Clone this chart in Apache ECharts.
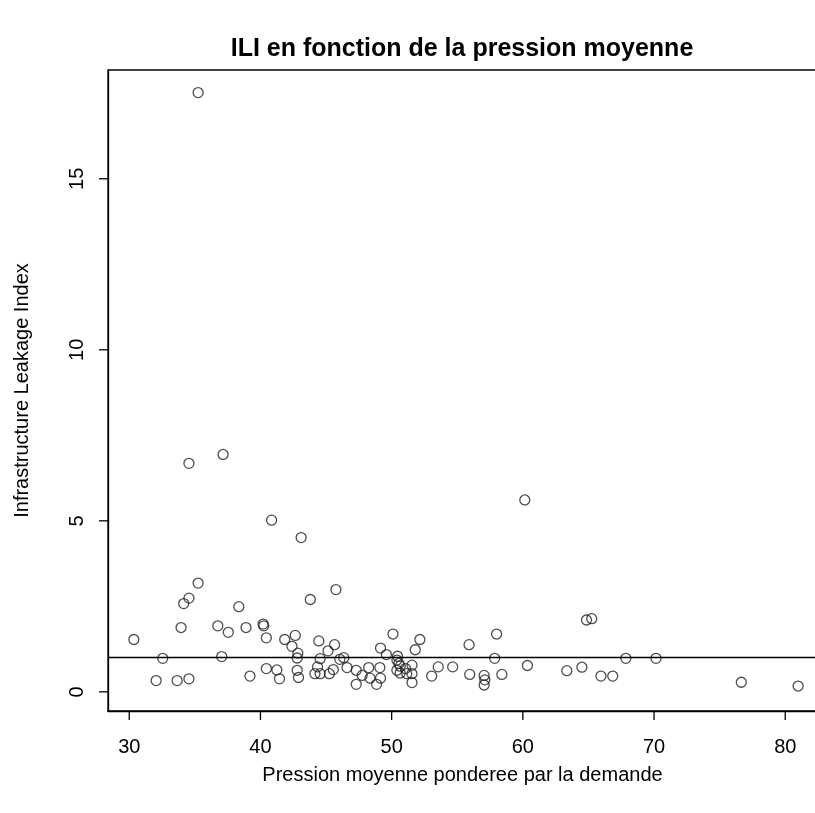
<!DOCTYPE html>
<html>
<head>
<meta charset="utf-8">
<script src="https://cdn.jsdelivr.net/npm/echarts@6/dist/echarts.min.js"></script>
<style>
  html, body { margin: 0; padding: 0; background: #fff; }
  #chart { width: 815px; height: 813px; }
</style>
</head>
<body>
<div id="chart"></div>
<script>
// Pression moyenne pondérée par la demande (m) for each sector
const pression = [
  30.35, 32.05, 32.55, 33.65, 33.95, 34.15, 34.55, 34.55, 34.55, 35.25,
  35.25, 36.75, 37.05, 37.15, 37.55, 38.35, 38.90, 39.20, 40.20, 40.25,
  40.45, 40.45, 40.85, 41.25, 41.45, 41.85, 42.40, 42.65, 42.80, 42.85,
  42.80, 42.90, 43.10, 43.80, 44.15, 44.35, 44.45, 44.55, 44.55, 45.15,
  45.25, 45.55, 45.65, 45.75, 46.05, 46.35, 46.60, 47.30, 47.30, 47.75,
  48.25, 48.35, 48.85, 49.10, 49.15, 49.15, 49.60, 50.10, 50.45, 50.40,
  50.55, 50.65, 50.40, 50.65, 51.05, 51.15, 51.55, 51.55, 51.55, 51.80,
  52.15, 53.05, 53.55, 54.65, 55.90, 55.95, 57.05, 57.10, 57.05, 57.85,
  58.00, 58.40, 60.15, 60.35, 63.35, 64.50, 64.85, 65.25, 65.95, 66.85,
  67.85, 70.15, 76.65, 80.98
];
// Infrastructure Leakage Index for the same sectors
const ili = [
  1.53, 0.33, 0.98, 0.33, 1.88, 2.58, 2.74, 0.38, 6.68, 3.18,
  17.52, 1.93, 1.03, 6.94, 1.74, 2.49, 1.88, 0.46, 1.98, 1.93,
  1.58, 0.68, 5.02, 0.64, 0.38, 1.53, 1.33, 1.65, 0.63, 1.13,
  0.99, 0.42, 4.51, 2.70, 0.53, 0.73, 1.49, 0.97, 0.53, 1.20,
  0.53, 0.65, 1.38, 2.99, 0.95, 1.00, 0.71, 0.63, 0.22, 0.48,
  0.71, 0.40, 0.22, 0.71, 0.40, 1.28, 1.09, 1.69, 1.04, 0.93,
  0.83, 0.75, 0.63, 0.55, 0.68, 0.53, 0.78, 0.53, 0.27, 1.23,
  1.53, 0.46, 0.73, 0.73, 1.38, 0.51, 0.48, 0.35, 0.20, 0.98,
  1.69, 0.51, 5.61, 0.77, 0.62, 0.72, 2.10, 2.14, 0.46, 0.46,
  0.98, 0.98, 0.28, 0.17
];
const xTicks = [30, 40, 50, 60, 70, 80];
const yTicks = [0, 5, 10, 15];
const seuilILI = 1;

const points = pression.map((p, i) => [p, ili[i]]);
const font = '"Liberation Sans", Arial, Helvetica, sans-serif';
const ink = { color: '#000', width: 1.3 };
const xRange = [28.38, 82.42];
const yRange = [-0.56, 18.18];
const tickLen = 9;

const chart = echarts.init(document.getElementById('chart'), null, { renderer: 'canvas' });
chart.setOption({
  animation: false,
  backgroundColor: '#ffffff',
  title: {
    text: 'ILI en fonction de la pression moyenne',
    left: 457,
    top: 32,
    textAlign: 'center',
    textStyle: { fontFamily: font, fontSize: 25, fontWeight: 'bold', color: '#000' }
  },
  grid: {
    left: 108, top: 70, width: 709, height: 641,
    outerBoundsMode: 'none',
    containLabel: false,
    show: true, borderColor: '#000', borderWidth: 1.3, backgroundColor: 'transparent'
  },
  xAxis: {
    type: 'value',
    min: xRange[0], max: xRange[1],
    name: 'Pression moyenne ponderee par la demande',
    nameLocation: 'middle', nameGap: 54,
    nameTextStyle: { fontFamily: font, fontSize: 20, color: '#000' },
    axisLine: { show: true, onZero: false, lineStyle: ink },
    splitLine: { show: false },
    axisTick: { show: false },
    axisLabel: { customValues: xTicks, margin: 26, fontFamily: font, fontSize: 20, color: '#000' }
  },
  yAxis: {
    type: 'value',
    min: yRange[0], max: yRange[1],
    name: 'Infrastructure Leakage Index',
    nameLocation: 'middle', nameGap: 76,
    nameTextStyle: { fontFamily: font, fontSize: 20, color: '#000' },
    axisLine: { show: true, onZero: false, lineStyle: ink },
    splitLine: { show: false },
    axisTick: { show: false },
    axisLabel: { customValues: yTicks, rotate: 90, margin: 21, fontFamily: font, fontSize: 20, color: '#000' }
  },
  series: [{
    type: 'scatter',
    data: points,
    symbol: 'circle',
    symbolSize: 10,
    itemStyle: { color: 'rgba(0,0,0,0)', borderColor: '#222', borderWidth: 1.3 },
    markLine: {
      silent: true,
      symbol: 'none',
      label: { show: false },
      lineStyle: { color: '#000', width: 1.3, type: 'solid' },
      data: [{ yAxis: seuilILI }]
    }
  }]
});

// Outward tick marks, placed through the axes' own scales
const bottom = chart.convertToPixel({ yAxisIndex: 0 }, yRange[0]);
const left = chart.convertToPixel({ xAxisIndex: 0 }, xRange[0]);
const tickMarks = [];
xTicks.forEach(v => {
  const px = chart.convertToPixel({ xAxisIndex: 0 }, v);
  tickMarks.push({ type: 'line', silent: true, z: 100,
    shape: { x1: px, y1: bottom, x2: px, y2: bottom + tickLen }, style: { stroke: '#000', lineWidth: 1.3 } });
});
yTicks.forEach(v => {
  const py = chart.convertToPixel({ yAxisIndex: 0 }, v);
  tickMarks.push({ type: 'line', silent: true, z: 100,
    shape: { x1: left, y1: py, x2: left - tickLen, y2: py }, style: { stroke: '#000', lineWidth: 1.3 } });
});
chart.setOption({ graphic: tickMarks });
</script>
</body>
</html>
